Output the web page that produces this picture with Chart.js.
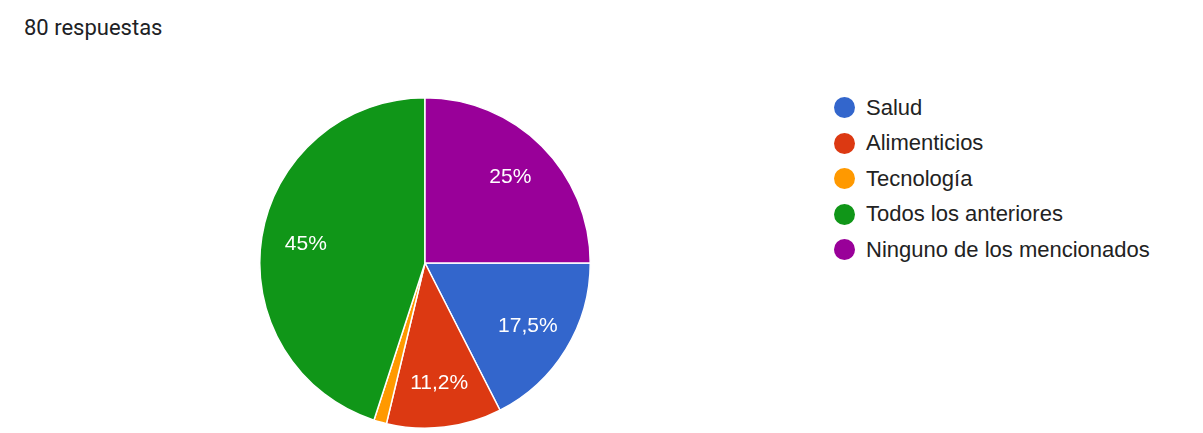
<!DOCTYPE html>
<html lang="es">
<head>
    <meta charset="UTF-8">
    <title>80 respuestas</title>
    <script src="https://cdn.jsdelivr.net/npm/chart.js"></script>
    <style>
        body {
            margin: 0;
            padding: 0;
            background-color: #fff;
            width: 1203px;
            height: 433px;
            overflow: hidden;
            position: relative;
        }
        .title {
            position: absolute;
            left: 24px;
            top: 15px;
            font-family: Roboto, Arial, sans-serif;
            font-size: 22px;
            color: #202124;
        }
        .pie-box {
            position: absolute;
            left: 259px;
            top: 97px;
            width: 332px;
            height: 332px;
        }
        #legend {
            position: absolute;
            left: 834px;
            top: 90px;
            margin: 0;
            padding: 0;
            list-style: none;
            font-family: Arial, "Liberation Sans", sans-serif;
            font-size: 22px;
            color: #222;
        }
        #legend li {
            height: 35.5px;
            display: flex;
            align-items: center;
        }
        #legend .dot {
            width: 21px;
            height: 21px;
            border-radius: 50%;
            margin-right: 11px;
        }
    </style>
</head>
<body>
    <div class="title">80 respuestas</div>
    <div class="pie-box"><canvas id="pieChart"></canvas></div>
    <ul id="legend"></ul>

    <script>
        const categories = ['Salud', 'Alimenticios', 'Tecnología', 'Todos los anteriores', 'Ninguno de los mencionados'];
        const responses = [14, 9, 1, 36, 20];
        const colors = ['#3366cc', '#dc3912', '#ff9900', '#109618', '#990099'];

        const total = responses.reduce((a, b) => a + b, 0);

        function pctLabel(v) {
            const p = Math.floor(v / total * 1000) / 10;
            return String(p).replace('.', ',') + '%';
        }

        // white percent labels inside the slices
        const sliceLabels = {
            id: 'sliceLabels',
            afterDatasetsDraw(chart) {
                const ctx = chart.ctx;
                const meta = chart.getDatasetMeta(0);
                ctx.save();
                ctx.fillStyle = '#fff';
                ctx.font = '21px Arial, "Liberation Sans", sans-serif';
                ctx.textAlign = 'center';
                ctx.textBaseline = 'middle';
                meta.data.forEach((arc, i) => {
                    const v = responses[i];
                    if (v / total < 0.05) return;
                    const mid = (arc.startAngle + arc.endAngle) / 2;
                    const r = arc.outerRadius * 0.73;
                    ctx.fillText(pctLabel(v), arc.x + Math.cos(mid) * r, arc.y + Math.sin(mid) * r);
                });
                ctx.restore();
            }
        };

        new Chart(document.getElementById('pieChart').getContext('2d'), {
            type: 'pie',
            data: {
                labels: categories,
                datasets: [{
                    data: responses,
                    backgroundColor: colors,
                    borderColor: '#fff',
                    borderWidth: 1.5
                }]
            },
            options: {
                responsive: true,
                maintainAspectRatio: false,
                animation: false,
                rotation: 90,
                layout: { padding: 0 },
                plugins: {
                    legend: { display: false },
                    tooltip: { enabled: false }
                }
            },
            plugins: [sliceLabels]
        });

        const legend = document.getElementById('legend');
        categories.forEach((c, i) => {
            const li = document.createElement('li');
            li.innerHTML = '<span class="dot" style="background:' + colors[i] + '"></span>' + c;
            legend.appendChild(li);
        });
    </script>
</body>
</html>
